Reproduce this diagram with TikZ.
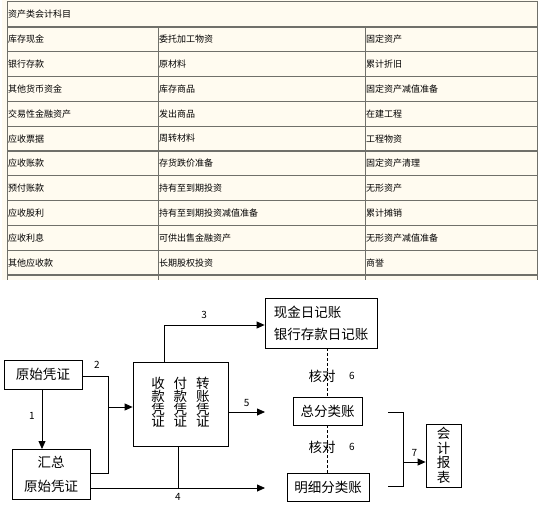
\documentclass[tikz,border=0pt]{standalone}
\usepackage{fontspec}
\setmainfont{Noto Sans CJK SC}
\usetikzlibrary{arrows.meta, positioning, calc}
\definecolor{cream}{RGB}{255,251,240}
\definecolor{ruleGray}{RGB}{112,112,106}
\tikzset{
    x=1pt, y=-1pt,
    >={Triangle[length=8pt,width=7pt]},
    % Table
    cell/.style={anchor=west, inner sep=0pt, font=\fontsize{9}{10}\selectfont},
    tline/.style={line width=1.3pt, ruleGray},
    % Flow chart
    box/.style={draw, line width=0.8pt, inner sep=0pt, align=center,
                font=\fontsize{13.5}{16}\selectfont},
    flow/.style={->, line width=0.8pt},
    link/.style={line width=0.8pt},
    check/.style={line width=0.8pt, dash pattern=on 3pt off 2pt},
    num/.style={inner sep=0pt, font=\fontsize{10}{12}\selectfont},
    lbl/.style={inner sep=0pt, font=\fontsize{13.5}{16}\selectfont}
}

\begin{document}
\begin{tikzpicture}

\useasboundingbox (0,0) rectangle (543,506);

% Table
\fill[cream] (2,0) rectangle (538,280);
\draw[tline] (7,1.5) -- (537.5,1.5) -- (537.5,280);
\draw[tline, line width=0.8pt] (7,1.5) -- (7,280);
\foreach \y in {27,51.8,76.6,101.4,126.2,151,175.8,200.6,225.4,250.2,275}
    \draw[tline] (7,\y) -- (537.5,\y);
\foreach \x in {158,365}
    \draw[tline, line width=0.9pt] (\x,27) -- (\x,280);
\node[cell] (head) at (8,14) {资产类会计科目};
\foreach \a/\b/\c [count=\i] in {
    库存现金/委托加工物资/固定资产,
    银行存款/原材料/累计折旧,
    其他货币资金/库存商品/固定资产减值准备,
    交易性金融资产/发出商品/在建工程,
    应收票据/周转材料/工程物资,
    应收账款/存货跌价准备/固定资产清理,
    预付账款/持有至到期投资/无形资产,
    应收股利/持有至到期投资减值准备/累计摊销,
    应收利息/可供出售金融资产/无形资产减值准备,
    其他应收款/长期股权投资/商誉}
{
    \node[cell] (r\i a) at (8,{27+(\i-1)*24.8+12.4}) {\a};
    \node[cell] (r\i b) at (159,{27+(\i-1)*24.8+12.4}) {\b};
    \node[cell] (r\i c) at (366,{27+(\i-1)*24.8+12.4}) {\c};
}

% Nodes
\node[box, minimum width=78pt, minimum height=29pt] (orig) at (43,374.5) {原始凭证};
\node[box, minimum width=78pt, minimum height=50pt,
      font=\fontsize{13.5}{24}\selectfont] (summ) at (51,474) {汇总\\原始凭证};
\node[box, minimum width=95pt, minimum height=84pt,
      font=\fontsize{13.5}{15}\selectfont] (vouch) at (180.5,404)
      {\begin{tabular}{@{}c@{\hspace{9pt}}c@{\hspace{9pt}}c@{}}
       收&付&转\\[-3pt] 款&款&账\\[-3pt] 凭&凭&凭\\[-3pt] 证&证&证
       \end{tabular}};
\node[box, minimum width=112pt, minimum height=50pt, align=left,
      font=\fontsize{13.5}{22}\selectfont] (journal) at (321,323)
      {现金日记账\\银行存款日记账};
\node[box, minimum width=69pt, minimum height=28pt] (general) at (327.5,411) {总分类账};
\node[box, minimum width=82pt, minimum height=28pt] (detail) at (328,487) {明细分类账};
\node[box, minimum width=35pt, minimum height=63pt,
      font=\fontsize{13.5}{14.5}\selectfont] (report) at (443.5,455.5) {会\\计\\报\\表};

% Junctions
\coordinate (j2) at (108,407);
\coordinate (p3) at (164,362);
\coordinate (e5) at (265,412);
\coordinate (e4) at (265,488);
\coordinate (p4) at (178,446);
\coordinate (b1) at (388,412);
\coordinate (b2) at (388,486);
\coordinate (b7) at (403,462);

% Arrows
\draw[flow] (orig.south -| 42,0) -- (42,449) node[num, pos=0.45, left=7pt] {1};
\draw[link] (orig.east |- 0,376) -- (108,376) -- (108,473) -- (summ.east |- 0,473);
\node[num] (n2) at (97,365) {2};
\draw[flow] (j2) -- (vouch.west |- j2);
\draw[flow] (p3) |- (journal.west |- 0,325) node[num, pos=0.7, above=6pt] {3};
\draw[flow] (vouch.east |- e5) -- (e5) node[num, midway, above=5pt] {5};
\draw[flow] (summ.east |- e4) -- (e4);
\draw[link] (p4) -- (p4 |- e4) node[num, below=5pt] {4};
\draw[check] (general.north |- journal.south) -- (general.north);
\draw[check] (general.south) -- (general.south |- detail.north);
\node[lbl] (chk1) at (322,376) {核对};
\node[num] (six1) at (352,376) {6};
\node[lbl] (chk2) at (322,447) {核对};
\node[num] (six2) at (352,447) {6};
\draw[link] (b1) -- (b1 -| b7) -- (b2 -| b7) -- (b2);
\draw[flow] (b7) -- (report.west |- b7) node[num, midway, above=5pt] {7};

\end{tikzpicture}
\end{document}
